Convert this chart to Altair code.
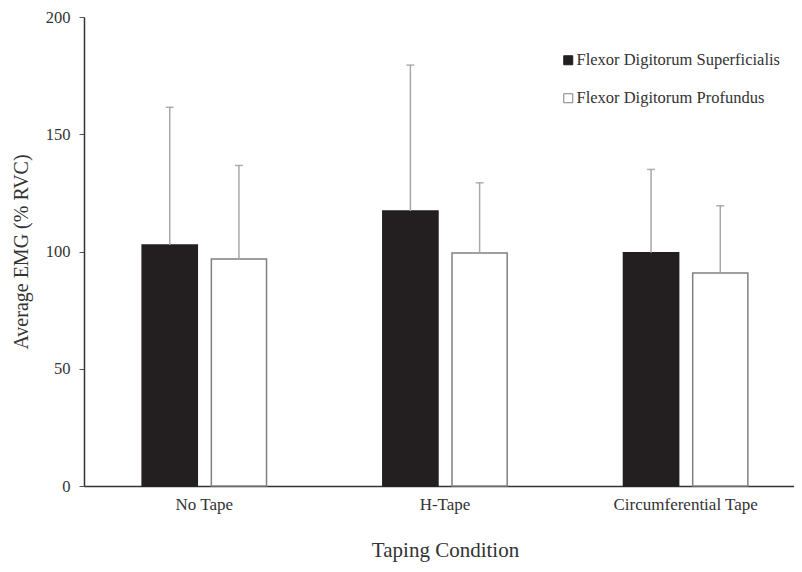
import altair as alt
import pandas as pd

conditions = ["No Tape", "H-Tape", "Circumferential Tape"]
muscles = ["Flexor Digitorum Superficialis", "Flexor Digitorum Profundus"]
fds_mean = [102.8, 117.3, 99.5]
fds_upper = [161.5, 179.5, 135.0]
fdp_mean = [96.8, 99.4, 90.8]
fdp_upper = [136.7, 129.3, 119.5]

rows = []
for i, c in enumerate(conditions):
    rows.append({"cond": c, "muscle": muscles[0], "mean": fds_mean[i], "upper": fds_upper[i]})
    rows.append({"cond": c, "muscle": muscles[1], "mean": fdp_mean[i], "upper": fdp_upper[i]})
df = pd.DataFrame(rows)

FONT = "Liberation Serif"

x = alt.X("cond:N", sort=conditions, title="Taping Condition",
          scale=alt.Scale(paddingInner=0, paddingOuter=0, range=[0, 722]),
          axis=alt.Axis(labelAngle=0, ticks=False, domainColor="#333333", domainWidth=1.5,
                        labelFontSize=17, labelPadding=10, titleFontSize=21,
                        titlePadding=27, titleFontWeight="normal"))
xo = alt.XOffset("muscle:N", sort=muscles,
                 scale=alt.Scale(paddingInner=0.203, paddingOuter=0.84))

bars = alt.Chart(df).mark_bar(strokeWidth=1.5).encode(
    x=x,
    xOffset=xo,
    y=alt.Y("mean:Q", title="Average EMG (% RVC)",
            scale=alt.Scale(domain=[0, 200], nice=False),
            axis=alt.Axis(values=[0, 50, 100, 150, 200], grid=False, tickSize=5,
                          tickColor="#555555", domainColor="#333333", domainWidth=1.5,
                          labelFontSize=16.5, labelPadding=9, titleFontSize=20,
                          titlePadding=14, titleFontWeight="normal")),
    fill=alt.Fill("muscle:N", sort=muscles,
                  scale=alt.Scale(domain=muscles, range=["#231f20", "#ffffff"]),
                  legend=alt.Legend(title=None, orient="none", legendX=476, legendY=35,
                                    symbolType="square", symbolSize=81,
                                    symbolStrokeColor="#444444", symbolStrokeWidth=1,
                                    labelFontSize=16.5, labelOffset=0, rowPadding=21,
                                    padding=0, labelLimit=400)),
    stroke=alt.Stroke("muscle:N", sort=muscles,
                      scale=alt.Scale(domain=muscles, range=["#231f20", "#808080"]),
                      legend=None),
)

err = alt.Chart(df).mark_rule(color="#a8a8a8", strokeWidth=1.5).encode(
    x=x, xOffset=xo, y="mean:Q", y2="upper:Q")

caps = alt.Chart(df).mark_tick(color="#909090", thickness=1.5, size=8).encode(
    x=x, xOffset=xo, y="upper:Q")

chart = alt.layer(bars, err, caps).properties(
    width=710, height=469,
    autosize=alt.AutoSizeParams(type="none"),
    padding={"left": 76, "top": 9, "right": 0, "bottom": 76},
).configure(font=FONT).configure_view(stroke=None).configure_axis(
    labelColor="#333333", titleColor="#333333"
).configure_legend(labelColor="#333333")

chart.save("out.html", embed_options={"renderer": "svg", "actions": False})
